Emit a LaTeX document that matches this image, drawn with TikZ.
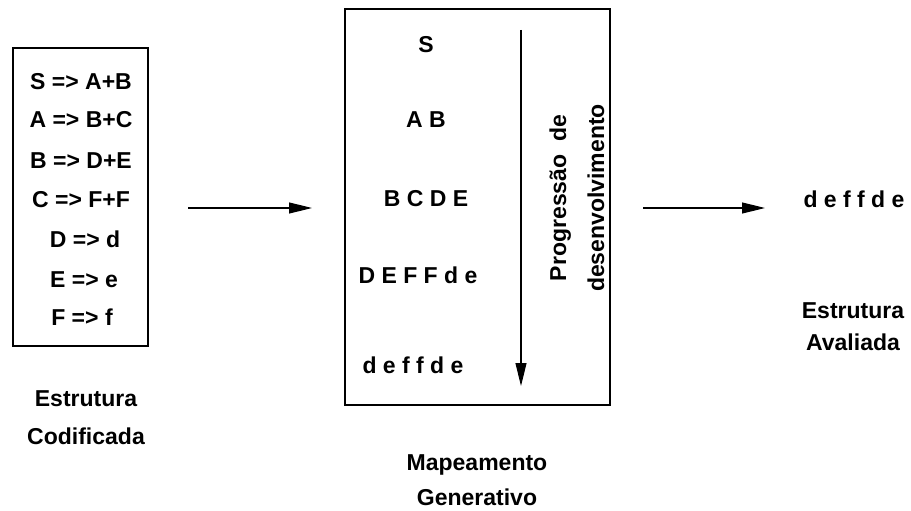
\documentclass[tikz,border=0pt]{standalone}
\usepackage{fontspec}
\setmainfont{Liberation Sans}
\usetikzlibrary{arrows.meta}
\begin{document}
\begin{tikzpicture}[x=1pt,y=-1pt,
  txt/.style={font=\fontsize{23}{27}\selectfont\bfseries, inner sep=0pt, anchor=base},
  box/.style={draw, line width=1.2pt},
  arr/.style={line width=1.1pt, -{Triangle[length=23pt,width=11pt]}}]
\useasboundingbox (0,0) rectangle (911,511);
% left box
\node[box, minimum width=135pt, minimum height=298pt, inner sep=0pt] (lbox) at (80.5,197) {};
\node[txt] (r1) at (81,89) {S => A+B};
\node[txt] (r2) at (81,128) {A => B+C};
\node[txt] (r3) at (81,168) {B => D+E};
\node[txt] (r4) at (81,207) {C => F+F};
\node[txt] (r5) at (85,247) {D => d};
\node[txt] (r6) at (84,287) {E => e};
\node[txt] (r7) at (82,325) {F => f};
\node[txt] (l1) at (86,406) {Estrutura};
\node[txt] (l2) at (86,444) {Codificada};
% middle box
\node[box, minimum width=265pt, minimum height=396pt, inner sep=0pt] (mbox) at (477.5,207) {};
\node[txt] (m1) at (426,53) {S};
\node[txt] (m2) at (426,128) {A B};
\node[txt] (m3) at (426,206) {B C D E};
\node[txt] (m4) at (418,283) {D E F F d e};
\node[txt] (m5) at (413,373) {d e f f d e};
\coordinate (vs) at (521,30);
\coordinate (ve) at (521,386);
\draw[arr] (vs) -- (ve);
\node[font=\fontsize{23}{38}\selectfont\bfseries, align=center, rotate=90, inner sep=0pt] (prog) at (577,198) {Progressão\ \ de\\desenvolvimento};
\node[txt] (m6) at (477,470) {Mapeamento};
\node[txt] (m7) at (477,505) {Generativo};
% arrows
\coordinate (a1s) at (188,208);
\coordinate (a1e) at (312,208);
\draw[arr] (a1s) -- (a1e);
\coordinate (a2s) at (643,208);
\coordinate (a2e) at (765,208);
\draw[arr] (a2s) -- (a2e);
% right
\node[txt] (o1) at (854,207) {d e f f d e};
\node[txt] (o2) at (853,318) {Estrutura};
\node[txt] (o3) at (853,350) {Avaliada};
\end{tikzpicture}
\end{document}
